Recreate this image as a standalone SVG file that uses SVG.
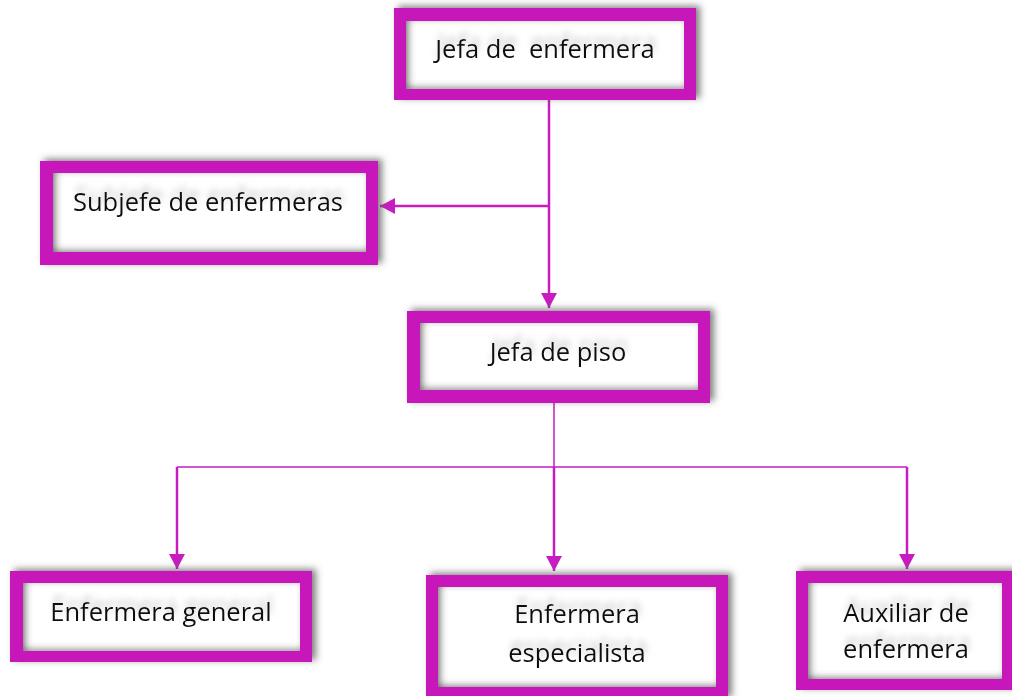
<svg xmlns="http://www.w3.org/2000/svg" width="1012" height="696" viewBox="0 0 1012 696">
<defs>
<style>
.frame{fill:#C719B9;filter:url(#outerShadow)}
.inner{fill:#ffffff;filter:url(#innerShadow)}
.lbl{font-family:"Open Sans","Noto Sans","Liberation Sans",sans-serif;font-size:25.5px;fill:#111;text-anchor:middle;white-space:pre;filter:url(#textShadow)}
.conn{fill:none;stroke:#C71DC0;stroke-width:2.5}
.thin{fill:none;stroke:#C71DC0;stroke-width:1.5}
.arr{marker-end:url(#ah)}
</style>
<filter id="outerShadow" x="-10%" y="-20%" width="125%" height="140%">
<feGaussianBlur in="SourceAlpha" stdDeviation="3.5"/>
<feOffset dx="4" dy="-2" result="b"/>
<feFlood flood-color="#555" flood-opacity="0.75"/>
<feComposite in2="b" operator="in"/>
<feMerge><feMergeNode/><feMergeNode in="SourceGraphic"/></feMerge>
</filter>
<filter id="innerShadow" x="-5%" y="-10%" width="110%" height="120%">
<feFlood flood-color="#666" result="f"/>
<feComposite in="f" in2="SourceAlpha" operator="out" result="o"/>
<feGaussianBlur in="o" stdDeviation="3.5"/>
<feOffset dx="3" dy="-2" result="s"/>
<feComposite in="s" in2="SourceAlpha" operator="in" result="is"/>
<feMerge><feMergeNode in="SourceGraphic"/><feMergeNode in="is"/></feMerge>
</filter>
<filter id="textShadow" x="-10%" y="-60%" width="120%" height="200%">
<feGaussianBlur in="SourceAlpha" stdDeviation="3"/>
<feOffset dx="2" dy="-7" result="b"/>
<feFlood flood-color="#888" flood-opacity="0.45"/>
<feComposite in2="b" operator="in"/>
<feMerge><feMergeNode/><feMergeNode in="SourceGraphic"/></feMerge>
</filter>
<marker id="ah" markerUnits="userSpaceOnUse" markerWidth="16" markerHeight="16" refX="15" refY="8" orient="auto" viewBox="0 0 16 16">
<path d="M0,0 L15,8 L0,16 Z" fill="#C71DC0"/>
</marker>
</defs>
<rect width="1012" height="696" fill="#ffffff"/>

<g id="connectors">
<line class="conn arr" x1="549" y1="100" x2="549" y2="308"/>
<line class="conn arr" x1="549" y1="206" x2="380" y2="206"/>
<polyline class="thin" points="554,403 554,467"/>
<polyline class="thin" points="177,467 907,467"/>
<line class="conn arr" x1="177" y1="467" x2="177" y2="569"/>
<line class="conn arr" x1="554" y1="467" x2="554" y2="571"/>
<line class="conn arr" x1="907" y1="467" x2="907" y2="569"/>
</g>

<g id="n1">
<rect class="frame" x="394" y="8" width="302" height="92"/>
<rect class="inner" x="406" y="21" width="278" height="68"/>
<text class="lbl" x="545" y="58">Jefa de  enfermera</text>
</g>

<g id="n2">
<rect class="frame" x="40" y="161" width="338" height="104"/>
<rect class="inner" x="53" y="173" width="313" height="79"/>
<text class="lbl" x="208" y="211">Subjefe de enfermeras</text>
</g>

<g id="n3">
<rect class="frame" x="407" y="311" width="303" height="92"/>
<rect class="inner" x="420" y="323" width="278" height="67"/>
<text class="lbl" x="558" y="361">Jefa de piso</text>
</g>

<g id="n4">
<rect class="frame" x="10" y="571" width="302" height="91"/>
<rect class="inner" x="23" y="583" width="277" height="68"/>
<text class="lbl" x="161" y="621">Enfermera general</text>
</g>

<g id="n5">
<rect class="frame" x="426" y="575" width="302" height="124"/>
<rect class="inner" x="438" y="587" width="278" height="100"/>
<text class="lbl" x="577" y="623">Enfermera</text>
<text class="lbl" x="577" y="662">especialista</text>
</g>

<g id="n6">
<rect class="frame" x="796" y="571" width="218" height="119"/>
<rect class="inner" x="808" y="583" width="194" height="96"/>
<text class="lbl" x="906" y="622">Auxiliar de</text>
<text class="lbl" x="906" y="658">enfermera</text>
</g>
</svg>
